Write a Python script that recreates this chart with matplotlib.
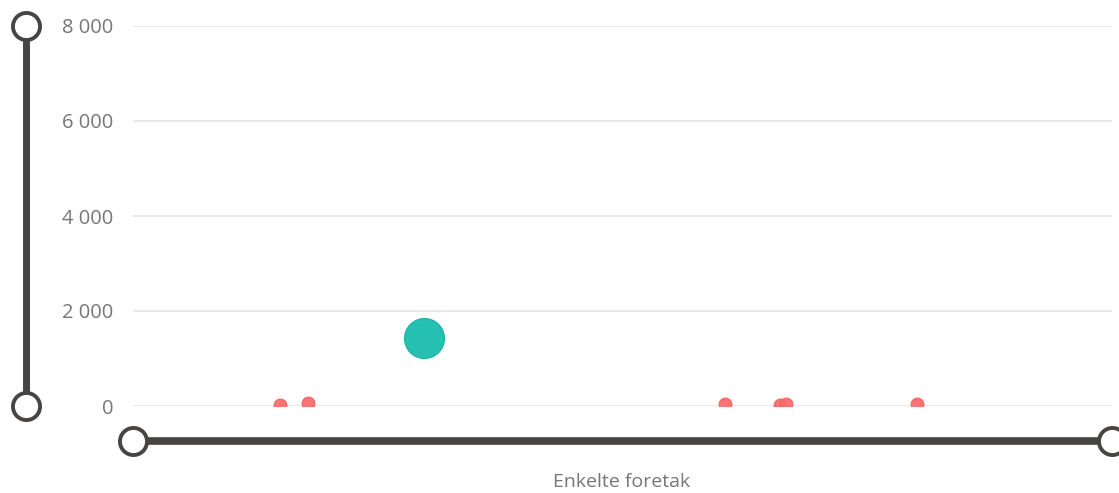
import matplotlib
matplotlib.use("Agg")
import matplotlib.pyplot as plt
from matplotlib.lines import Line2D

plt.rcParams['font.family'] = ['Open Sans', 'DejaVu Sans']

# data (x positions are relative, no x ticks shown)
red_x = [15.0, 17.9, 60.5, 66.1, 66.7, 80.1]
red_y = [30, 60, 40, 30, 40, 40]
teal_x = [29.7]
teal_y = [1430]
y_ticks = [0, 2000, 4000, 6000, 8000]
y_labels = ["0", "2 000", "4 000", "6 000", "8 000"]
x_label = "Enkelte foretak"

W, H = 1119, 493
fig = plt.figure(figsize=(W / 100, H / 100), dpi=100)
ax = fig.add_axes([133 / W, (H - 406) / H, (1112 - 133) / W, (406 - 26) / H])

ax.set_xlim(0, 100)
ax.set_ylim(0, 8000)
ax.set_yticks(y_ticks)
ax.set_yticklabels(y_labels)
ax.set_xticks([])
for s in ax.spines.values():
    s.set_visible(False)
ax.grid(axis='y', color='#e8e8e8', linewidth=1.5, zorder=0)
ax.tick_params(axis='y', length=0, pad=14, labelsize=14.5, labelcolor='#777777')

ax.scatter(red_x, red_y, s=85, color='#fd6b6b', edgecolor='#f06060', linewidth=0.8,
           alpha=0.95, zorder=3)
ax.scatter(teal_x, teal_y, s=820, color='#26c1b3', edgecolor='#1fb5a7', linewidth=1,
           zorder=3)

# slider decorations
slider = '#474544'
fig.add_artist(Line2D([26 / W, 26 / W], [(H - 26) / H, (H - 406) / H],
                      transform=fig.transFigure, color=slider, linewidth=5,
                      marker='o', markersize=19.5, markerfacecolor='white',
                      markeredgecolor=slider, markeredgewidth=2.8, zorder=5))
fig.add_artist(Line2D([133 / W, 1112 / W], [(H - 441) / H, (H - 441) / H],
                      transform=fig.transFigure, color=slider, linewidth=5.5,
                      marker='o', markersize=19.5, markerfacecolor='white',
                      markeredgecolor=slider, markeredgewidth=2.8, zorder=5))

fig.text(622 / W, (H - 482) / H, x_label, ha='center', va='center',
         fontsize=14, color='#777777')

fig.savefig("out.png", dpi=100)
